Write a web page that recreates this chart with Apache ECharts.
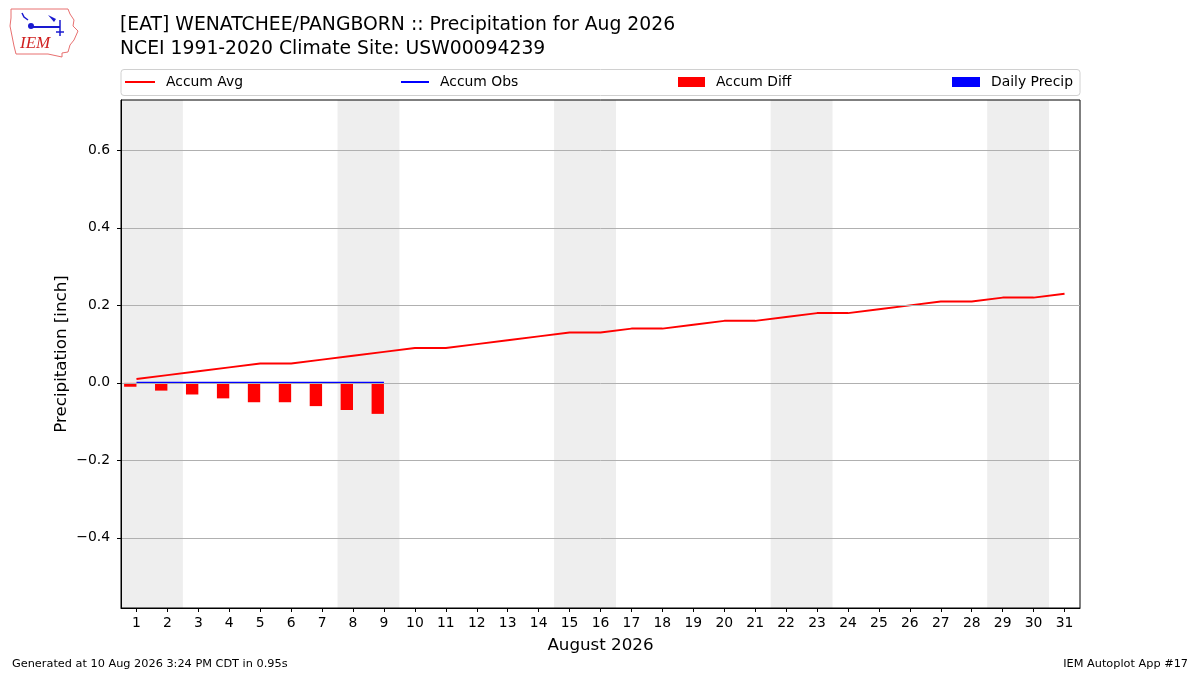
<!DOCTYPE html>
<html>
<head>
<meta charset="utf-8">
<script src="https://cdn.jsdelivr.net/npm/echarts@6/dist/echarts.min.js"></script>
<style>
  html, body { margin: 0; padding: 0; background: #fff; }
  #chart { width: 1200px; height: 675px; }
</style>
</head>
<body>
<div id="chart"></div>
<script>
// days of August 2026
const days = [];
for (let d = 1; d <= 31; d++) days.push(d);

// climatology accumulated precip (inch)
const accumAvg = [0.01, 0.02, 0.03, 0.04, 0.05, 0.05, 0.06, 0.07, 0.08, 0.09,
  0.09, 0.10, 0.11, 0.12, 0.13, 0.13, 0.14, 0.14, 0.15, 0.16,
  0.16, 0.17, 0.18, 0.18, 0.19, 0.20, 0.21, 0.21, 0.22, 0.22, 0.23];
// observed so far (through the 9th)
const obsDays = [1, 2, 3, 4, 5, 6, 7, 8, 9];
const accumObs = [0, 0, 0, 0, 0, 0, 0, 0, 0];
const dailyPrecip = [0, 0, 0, 0, 0, 0, 0, 0, 0];
const accumDiff = [-0.01, -0.02, -0.03, -0.04, -0.05, -0.05, -0.06, -0.07, -0.08];

// weekend days (Sat/Sun)
const weekends = [[1, 2], [8, 9], [15, 16], [22, 23], [29, 30]];
const yTicks = [-0.4, -0.2, 0, 0.2, 0.4, 0.6];

const font = 'DejaVu Sans';
const chart = echarts.init(document.getElementById('chart'));

// bars drawn left/right of the day tick like matplotlib align='edge'
function barRender(offset) {
  return function (params, api) {
    const x = api.value(0), y = api.value(1);
    const p1 = api.coord([x + offset, y]);
    const p0 = api.coord([x, 0]);
    const left = Math.min(p0[0], p1[0]);
    const top = Math.min(p0[1], p1[1]);
    return {
      type: 'rect',
      shape: { x: left, y: top, width: Math.abs(p1[0] - p0[0]), height: Math.abs(p1[1] - p0[1]) },
      style: { fill: api.visual('color') }
    };
  };
}

// one legend per entry, spread over the box like matplotlib's expand mode
function legendAt(left, name, w, h, top) {
  return {
    left: left, top: top, padding: 0, itemWidth: w, itemHeight: h, itemGap: 0,
    data: [{ name: name, icon: 'rect' }],
    textStyle: { fontFamily: font, fontSize: 13.9, color: '#000', padding: [0, 0, 0, 6] }
  };
}

const option = {
  animation: false,
  backgroundColor: '#fff',
  title: [
    { text: '[EAT] WENATCHEE/PANGBORN :: Precipitation for Aug 2026', left: 120, top: 16, padding: 0,
      textStyle: { fontFamily: font, fontSize: 18.8, fontWeight: 'normal', color: '#000' } },
    { text: 'NCEI 1991-2020 Climate Site: USW00094239', left: 120, top: 40, padding: 0,
      textStyle: { fontFamily: font, fontSize: 18.8, fontWeight: 'normal', color: '#000' } }
  ],
  legend: [
    legendAt(125, 'Accum Avg', 30, 2, 75),
    legendAt(401, 'Accum Obs', 28, 2, 75),
    legendAt(678, 'Accum Diff', 27, 10, 75),
    legendAt(952, 'Daily Precip', 28, 10, 75)
  ],
  grid: { left: 121, right: 120, top: 100, bottom: 67, show: true, borderColor: '#000', borderWidth: 1, containLabel: false, z: 10 },
  xAxis: {
    type: 'value', min: 0.5, max: 31.5, z: 10,
    name: 'August 2026', nameLocation: 'middle', nameGap: 29,
    nameTextStyle: { fontFamily: font, fontSize: 16.7, color: '#000' },
    axisLine: { onZero: false, lineStyle: { color: '#000' } },
    axisTick: { show: true, length: 4, lineStyle: { color: '#000' }, customValues: days },
    axisLabel: { fontFamily: font, fontSize: 13.9, color: '#000', margin: 8, customValues: days },
    splitLine: { show: false }
  },
  yAxis: {
    type: 'value', min: -0.581, max: 0.73, z: 10,
    name: 'Precipitation [inch]', nameLocation: 'middle', nameGap: 51, nameMoveOverlap: false,
    nameTextStyle: { fontFamily: font, fontSize: 16.7, color: '#000' },
    axisLine: { show: true, lineStyle: { color: '#000' } },
    axisTick: { show: true, length: 4, lineStyle: { color: '#000' }, customValues: yTicks },
    axisLabel: { fontFamily: font, fontSize: 13.9, color: '#000', margin: 11, customValues: yTicks,
      formatter: v => (v < 0 ? '\u2212' : '') + Math.abs(v).toFixed(1) },
    splitLine: { show: true, lineStyle: { color: '#b0b0b0', width: 1 }, customValues: yTicks }
  },
  series: [
    {
      name: 'weekends', type: 'line', data: [], silent: true, z: 1,
      markArea: {
        silent: true,
        itemStyle: { color: '#eeeeee' },
        data: weekends.map(w => [{ xAxis: w[0] - 0.5 }, { xAxis: w[1] + 0.5 }])
      }
    },
    {
      name: 'Accum Diff', type: 'custom', color: '#ff0000',
      renderItem: barRender(-0.4),
      data: obsDays.map((d, i) => [d, accumDiff[i]]), z: 3
    },
    {
      name: 'Daily Precip', type: 'custom', color: '#0000ff',
      renderItem: barRender(0.4),
      data: obsDays.map((d, i) => [d, dailyPrecip[i]]), z: 3
    },
    {
      name: 'Accum Avg', type: 'line', color: '#ff0000', symbol: 'none',
      lineStyle: { width: 2, color: '#ff0000' },
      data: days.map((d, i) => [d, accumAvg[i]]), z: 4
    },
    {
      name: 'Accum Obs', type: 'line', color: '#0000ff', symbol: 'none',
      lineStyle: { width: 2, color: '#0000ff' },
      data: obsDays.map((d, i) => [d, accumObs[i]]), z: 5
    }
  ],
  graphic: [
    // legend frame
    { type: 'rect', shape: { x: 121, y: 69.5, width: 959, height: 26, r: 3 },
      style: { fill: 'none', stroke: '#d0d0d0', lineWidth: 1 }, z: -1 },
    // IEM logo (rough)
    { type: 'polyline', shape: { points: [[11, 9], [68, 9], [70, 14], [74, 20], [73, 26], [78, 31], [74, 40], [70, 45], [68, 52], [62, 53], [62, 57], [48, 54], [16, 54], [14, 46], [12, 36], [10, 26], [11, 18], [11, 9]] },
      style: { fill: 'none', stroke: '#e87070', lineWidth: 1 } },
    { type: 'line', shape: { x1: 30, y1: 27, x2: 60, y2: 27 }, style: { stroke: '#1a1ad0', lineWidth: 2 } },
    { type: 'circle', shape: { cx: 31, cy: 26, r: 3 }, style: { fill: '#1a1ad0' } },
    { type: 'polyline', shape: { points: [[22, 13], [24, 17], [28, 20]] }, style: { stroke: '#1a1ad0', lineWidth: 1.5 } },
    { type: 'polygon', shape: { points: [[48, 15], [56, 19], [54, 22]] }, style: { fill: '#1a1ad0' } },
    { type: 'line', shape: { x1: 60, y1: 20, x2: 60, y2: 36 }, style: { stroke: '#1a1ad0', lineWidth: 1.5 } },
    { type: 'line', shape: { x1: 56, y1: 32, x2: 64, y2: 32 }, style: { stroke: '#1a1ad0', lineWidth: 1.5 } },
    { type: 'text', left: 20, top: 35, style: { text: 'IEM', font: 'italic 17px "Liberation Serif"', fill: '#d02020' } },
    // footer
    { type: 'text', left: 12, top: 659, style: { text: 'Generated at 10 Aug 2026 3:24 PM CDT in 0.95s', font: '11.3px "DejaVu Sans"', fill: '#000' } },
    { type: 'text', right: 12, top: 659, style: { text: 'IEM Autoplot App #17', font: '11.3px "DejaVu Sans"', fill: '#000' } }
  ]
};

chart.setOption(option);
</script>
</body>
</html>
